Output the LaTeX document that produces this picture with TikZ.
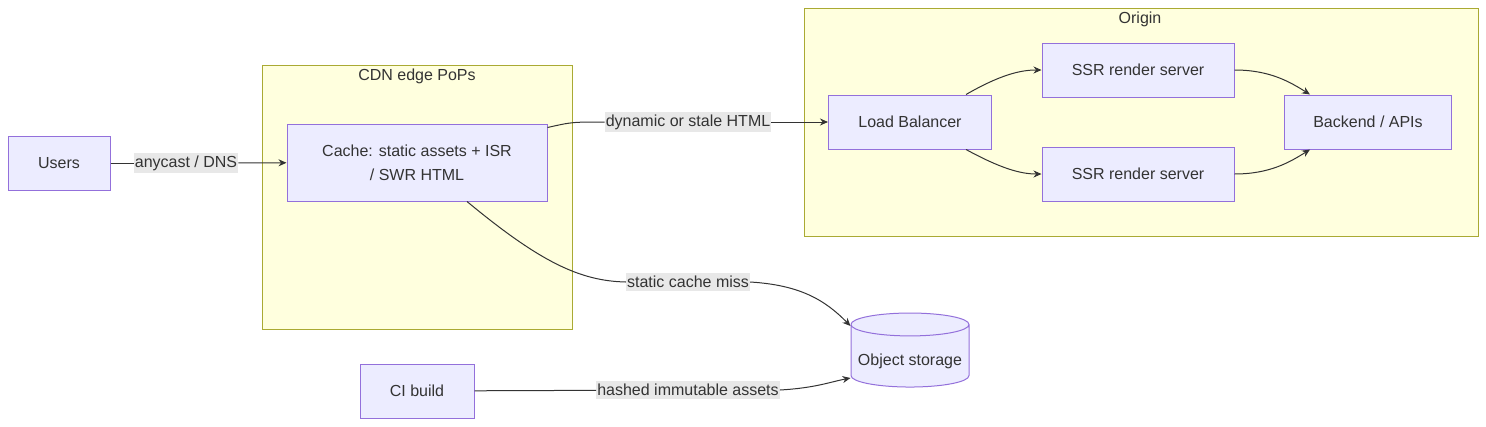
\documentclass[tikz,border=0pt]{standalone}
\usepackage{fontspec}
\setmainfont{Liberation Sans}
\usetikzlibrary{shapes.geometric, arrows.meta, positioning, calc}
\definecolor{nodefill}{HTML}{ECECFF}
\definecolor{nodeline}{HTML}{9370DB}
\definecolor{clusterfill}{HTML}{FFFFDE}
\definecolor{clusterline}{HTML}{AAAA33}
\definecolor{inkgray}{HTML}{333333}
\definecolor{labelgray}{HTML}{E8E8E8}

\begin{document}
\begin{tikzpicture}[x=1pt, y=-1pt,
    box/.style={draw=nodeline, fill=nodefill, line width=1pt, text=inkgray,
        font=\fontsize{16}{24}\selectfont, align=center, inner sep=0pt},
    cluster/.style={draw=clusterline, fill=clusterfill, line width=1pt},
    flow/.style={draw=inkgray, line width=1pt, -{Stealth[length=8pt, width=7pt]}},
    link/.style={draw=inkgray, line width=1pt},
    elabel/.style={fill=labelgray, text=inkgray, font=\fontsize{16}{19}\selectfont,
        inner xsep=1pt, inner ysep=3pt}]
    \useasboundingbox (0,0) rectangle (1486,426);

    % Clusters
    \draw[cluster] (262,65) rectangle (572,329);
    \node[text=inkgray, font=\fontsize{16}{19}\selectfont] (cdntitle) at (417,76) {CDN edge PoPs};
    \draw[cluster] (804,8) rectangle (1478,236);
    \node[text=inkgray, font=\fontsize{16}{19}\selectfont] (origintitle) at (1140,19) {Origin};

    % Nodes
    \node[box, minimum width=102pt, minimum height=54pt] (users) at (59,163) {Users};
    \node[box, minimum width=260pt, minimum height=77pt] (cache) at (417,162.5) {Cache: static assets + ISR\\/ SWR HTML};
    \node[box, minimum width=163pt, minimum height=54pt] (lb) at (910,122) {Load Balancer};
    \node[box, minimum width=192pt, minimum height=54pt] (ssrA) at (1138,70) {SSR render server};
    \node[box, minimum width=192pt, minimum height=54pt] (ssrB) at (1138,174) {SSR render server};
    \node[box, minimum width=167pt, minimum height=54pt] (backend) at (1368,122) {Backend / APIs};
    \node[box, cylinder, shape border rotate=90, aspect=0.22, minimum width=118pt, minimum height=74pt] (objstore) at (910,356) {\raisebox{-5pt}[\height][\depth]{Object storage}};
    \node[box, minimum width=114pt, minimum height=54pt] (cibuild) at (417,391) {CI build};

    % Edge labels
    \node[elabel] (lblA) at (186,163) {anycast / DNS};
    \node[elabel] (lblB) at (688,122) {dynamic or stale HTML};
    \node[elabel] (lblC) at (688,282) {static cache miss};
    \node[elabel] (lblD) at (688,390) {hashed immutable assets};

    % Connectors
    \draw[link] (users) -- (lblA);
    \draw[flow] (lblA) -- (cache);
    \draw[link] ([yshift=-4pt]cache.north east) .. controls (572,122) .. (lblB.west);
    \draw[flow] (lblB) -- (lb);
    \draw[link] ([xshift=50pt]cache.south) .. controls (540,262) and (580,281) .. (lblC.west);
    \draw[flow] (lblC.east) .. controls (800,285) and (825,300) .. ([yshift=30pt]objstore.west);
    \draw[link] (cibuild) -- (lblD);
    \draw[flow] (lblD.east) .. controls (815,388) and (830,382) .. ([yshift=-22pt]objstore.west);
    \draw[flow] ([xshift=-26pt]lb.north east) .. controls (1000,75) and (1020,70) .. (ssrA.west);
    \draw[flow] ([xshift=-26pt]lb.south east) .. controls (1000,168) and (1020,174) .. (ssrB.west);
    \draw[flow] (ssrA.east) .. controls (1270,70) and (1290,82) .. ([xshift=26pt]backend.north west);
    \draw[flow] (ssrB.east) .. controls (1270,174) and (1290,162) .. ([xshift=26pt]backend.south west);
\end{tikzpicture}
\end{document}
